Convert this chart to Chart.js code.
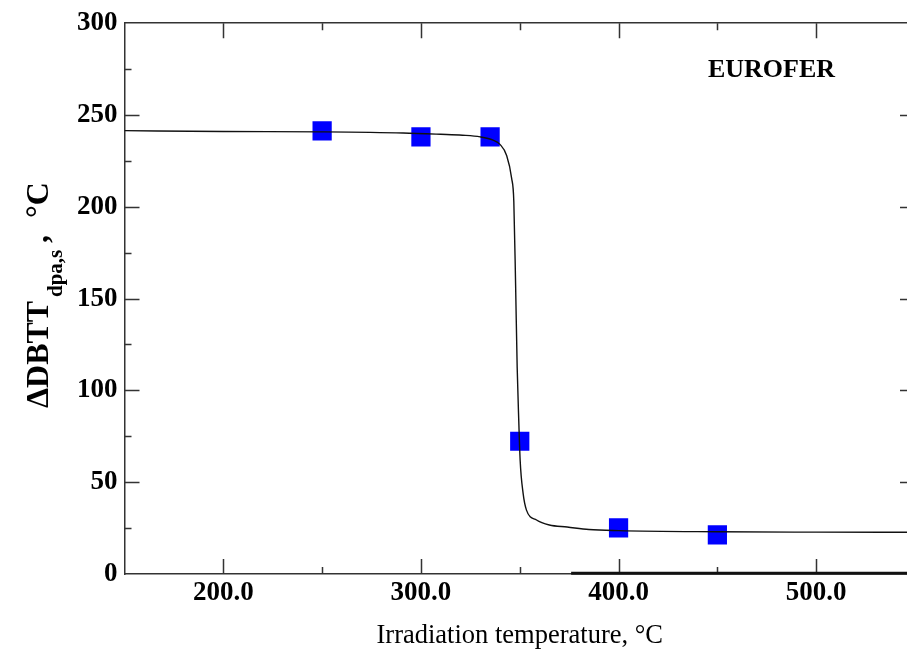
<!DOCTYPE html>
<html>
<head>
<meta charset="utf-8">
<script src="https://cdn.jsdelivr.net/npm/chart.js@4.4.1/dist/chart.umd.min.js"></script>
<style>
  html, body { margin: 0; padding: 0; background: #fff; overflow: hidden; }
  #wrap { width: 932px; height: 650px; }
</style>
</head>
<body>
<div id="wrap"><canvas id="dbttChart" width="932" height="650"></canvas></div>
<script>
// measured points (irradiation temperature, deg C -> delta DBTT, deg C)
const measTemp = [250, 300, 335, 350, 400, 450];
const measDbtt = [241.4, 238.1, 238.1, 72.3, 25.1, 21.3];

// fitted curve
const fitTemp = [150, 200, 250, 291, 310, 321, 330, 336.5, 340, 343.3, 345.9, 347.0, 347.9, 348.7, 349.5, 350.2, 351.7, 353.4, 358.5, 365, 374, 385, 400, 450, 500, 550];
const fitDbtt = [241.5, 241.0, 240.8, 240.2, 239.5, 239.0, 238.1, 236.3, 234.0, 228.1, 215.5, 202.8, 157.7, 112.5, 83.6, 62.0, 43.9, 34.8, 29.4, 26.7, 25.6, 24.2, 23.6, 23.0, 22.8, 22.7];

// ticks
const xMajor = [200, 300, 400, 500];
const xMinor = [250, 350, 450];
const yMajor = [0, 50, 100, 150, 200, 250, 300];
const yMinor = [25, 75, 125, 175, 225, 275];

const serif = "'Liberation Serif', 'Times New Roman', serif";
const axisColor = "#333";

const framePlugin = {
    id: "framePlugin",
    afterDraw(chart) {
        const { ctx, chartArea: area, scales } = chart;
        const xs = scales.x, ys = scales.y;
        ctx.save();
        ctx.strokeStyle = axisColor;
        ctx.lineWidth = 1.5;

        // inward ticks on all four sides
        const tickX = (vals, len) => {
            vals.forEach((v) => {
                const px = Math.round(xs.getPixelForValue(v)) + 0.5;
                ctx.beginPath();
                ctx.moveTo(px, area.bottom); ctx.lineTo(px, area.bottom - len);
                ctx.moveTo(px, area.top); ctx.lineTo(px, area.top + len);
                ctx.stroke();
            });
        };
        const tickY = (vals, len) => {
            vals.forEach((v) => {
                const py = Math.round(ys.getPixelForValue(v)) + 0.5;
                ctx.beginPath();
                ctx.moveTo(area.left, py); ctx.lineTo(area.left + len, py);
                ctx.moveTo(area.right, py); ctx.lineTo(area.right - len, py);
                ctx.stroke();
            });
        };
        tickX(xMajor, 15);
        tickX(xMinor, 7);
        tickY(yMajor.slice(1, -1), 15);
        tickY(yMinor, 7);

        // heavier stretch of the bottom frame line
        ctx.lineWidth = 3;
        ctx.strokeStyle = "#111";
        ctx.beginPath();
        ctx.moveTo(xs.getPixelForValue(376), area.bottom - 0.8);
        ctx.lineTo(area.right, area.bottom - 0.8);
        ctx.stroke();

        // label in the corner
        ctx.fillStyle = "#000";
        ctx.font = "bold 26px " + serif;
        ctx.textAlign = "left";
        ctx.textBaseline = "alphabetic";
        ctx.fillText("EUROFER", xs.getPixelForValue(445.2), ys.getPixelForValue(270.6));

        // y axis title with subscript
        ctx.translate(48, 408);
        ctx.rotate(-Math.PI / 2);
        ctx.font = "bold 32px " + serif;
        ctx.fillText("\u0394DBTT", 0, 0);
        ctx.font = "bold 21px " + serif;
        ctx.fillText("dpa,s", 111, 13.5);
        ctx.font = "bold 32px " + serif;
        ctx.fillText(",", 165, 0);
        ctx.fillText("\u00B0C", 190, 0);
        ctx.restore();
    },
};

const fitLine = {
    label: "fit",
    data: fitTemp.map((t, i) => ({ x: t, y: fitDbtt[i] })),
    borderColor: "#111",
    borderWidth: 1.4,
    pointRadius: 0,
    fill: false,
    cubicInterpolationMode: "monotone",
    order: 0,
};

const measured = {
    label: "EUROFER",
    data: measTemp.map((t, i) => ({ x: t, y: measDbtt[i] })),
    showLine: false,
    pointStyle: "rect",
    pointRadius: 13.6,
    pointBorderWidth: 0,
    backgroundColor: "#0000ff",
    borderColor: "#0000ff",
    order: 1,
};

new Chart(document.getElementById("dbttChart").getContext("2d"), {
    type: "line",
    data: { datasets: [fitLine, measured] },
    options: {
        responsive: false,
        animation: false,
        layout: { padding: 0 },
        plugins: {
            legend: { display: false },
            tooltip: { enabled: false },
        },
        scales: {
            x: {
                type: "linear",
                position: "bottom",
                min: 150,
                max: 550,
                afterBuildTicks: (s) => { s.ticks = xMajor.map((v) => ({ value: v })); },
                afterFit: (s) => { s.height = 76; },
                grid: { display: false, drawTicks: false },
                border: { display: true, color: axisColor, width: 1.5 },
                ticks: {
                    autoSkip: false,
                    maxRotation: 0,
                    padding: 3,
                    color: "#000",
                    font: { family: serif, size: 27, weight: "bold" },
                    callback: (v) => Number(v).toFixed(1),
                },
                title: {
                    display: true,
                    text: "Irradiation temperature, \u00B0C",
                    color: "#000",
                    font: { family: serif, size: 26.5, lineHeight: 1 },
                    padding: { top: 0, bottom: 0.5 },
                },
            },
            x2: {
                type: "linear",
                position: "top",
                min: 150,
                max: 550,
                afterFit: (s) => { s.height = 20; },
                grid: { display: false, drawTicks: false },
                border: { display: true, color: axisColor, width: 1.5 },
                ticks: { display: false },
            },
            y: {
                type: "linear",
                position: "left",
                min: 0,
                max: 300,
                afterBuildTicks: (s) => { s.ticks = yMajor.map((v) => ({ value: v })); },
                afterFit: (s) => { s.width = 124.5; },
                grid: { display: false, drawTicks: false },
                border: { display: true, color: axisColor, width: 1.5 },
                ticks: {
                    padding: 7,
                    color: "#000",
                    font: { family: serif, size: 27, weight: "bold" },
                },
            },
            y2: {
                type: "linear",
                position: "right",
                min: 0,
                max: 300,
                afterFit: (s) => { s.width = 17; },
                grid: { display: false, drawTicks: false },
                border: { display: true, color: axisColor, width: 1.5 },
                ticks: { display: false },
            },
        },
    },
    plugins: [framePlugin],
});
</script>
</body>
</html>
